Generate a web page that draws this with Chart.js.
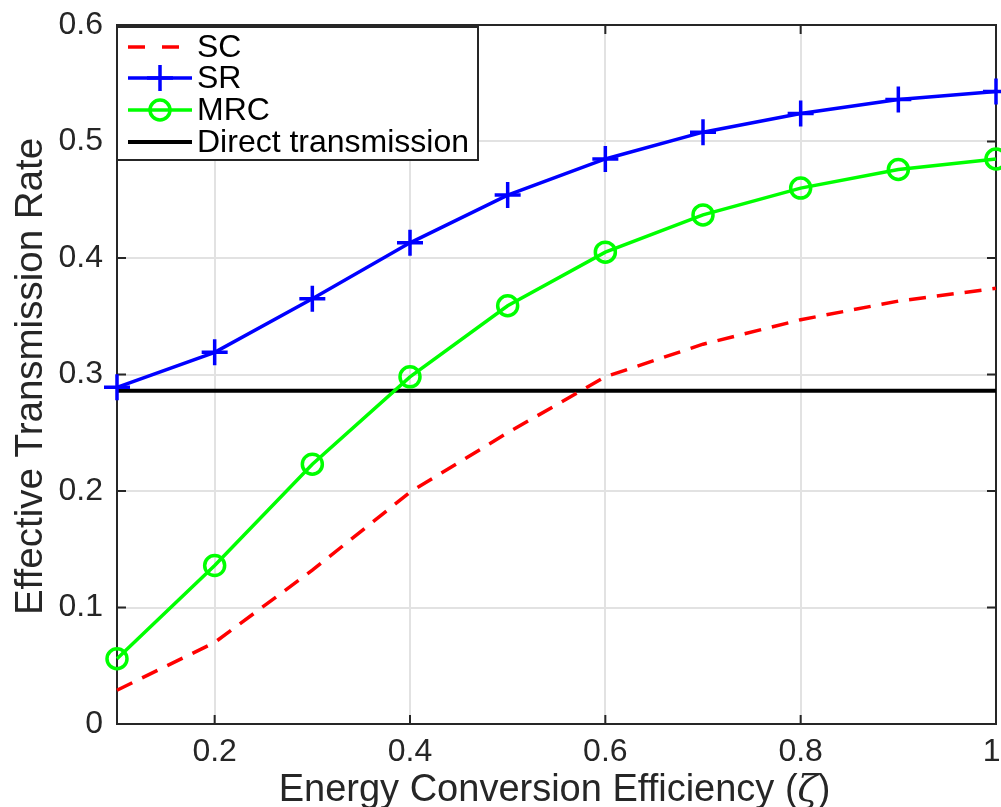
<!DOCTYPE html>
<html>
<head>
<meta charset="utf-8">
<title>Effective Transmission Rate</title>
<script src="https://cdn.jsdelivr.net/npm/chart.js@4.4.1/dist/chart.umd.min.js"></script>
<style>
  html, body { margin: 0; padding: 0; background: #ffffff; }
  #rateChart { display: block; }
</style>
</head>
<body>
<canvas id="rateChart" width="1001" height="807"></canvas>
<script>
// --- data ---
const efficiency = [0.1, 0.2, 0.3, 0.4, 0.5, 0.6, 0.7, 0.8, 0.9, 1.0];
const scRate  = [0.029, 0.070, 0.132, 0.199, 0.250, 0.298, 0.326, 0.347, 0.363, 0.374];
const srRate  = [0.289, 0.319, 0.365, 0.413, 0.454, 0.485, 0.508, 0.524, 0.536, 0.543];
const mrcRate = [0.056, 0.136, 0.223, 0.298, 0.359, 0.405, 0.437, 0.460, 0.476, 0.485];
const directX = [0.1, 1.0];
const directRate = [0.286, 0.286];

const xTicks = [0.2, 0.4, 0.6, 0.8, 1];
const yTicks = [0, 0.1, 0.2, 0.3, 0.4, 0.5, 0.6];

const seriesNames = ['SC', 'SR', 'MRC', 'Direct transmission'];

const FONT = '"Liberation Sans", Arial, Helvetica, sans-serif';
const AXIS_COLOR = '#262626';

function toPoints(xs, ys) {
    return xs.map((x, i) => ({ x: x, y: ys[i] }));
}

// no extra room for the outer tick labels, the box is fixed by layout padding
function fixScale(scale, size) {
    if (scale.isHorizontal()) scale.height = size; else scale.width = size;
    scale.paddingLeft = 0;
    scale.paddingRight = 0;
    scale.paddingTop = 0;
    scale.paddingBottom = 0;
}

// MATLAB style box with inward ticks
const framePlugin = {
    id: 'frame',
    beforeDatasetsDraw(chart) {
        const { ctx, chartArea: a, scales } = chart;
        ctx.save();
        ctx.strokeStyle = AXIS_COLOR;
        ctx.lineWidth = 2;
        ctx.strokeRect(a.left, a.top, a.right - a.left, a.bottom - a.top);
        const len = 9;
        ctx.beginPath();
        xTicks.forEach(v => {
            const px = scales.x.getPixelForValue(v);
            ctx.moveTo(px, a.bottom); ctx.lineTo(px, a.bottom - len);
            ctx.moveTo(px, a.top); ctx.lineTo(px, a.top + len);
        });
        yTicks.forEach(v => {
            const py = scales.y.getPixelForValue(v);
            ctx.moveTo(a.left, py); ctx.lineTo(a.left + len, py);
            ctx.moveTo(a.right, py); ctx.lineTo(a.right - len, py);
        });
        ctx.stroke();
        ctx.restore();
    }
};

// axis titles (x title needs an italic zeta)
const titlePlugin = {
    id: 'axisTitles',
    afterDraw(chart) {
        const { ctx, chartArea: a } = chart;
        ctx.save();
        ctx.fillStyle = AXIS_COLOR;
        ctx.textBaseline = 'alphabetic';

        const main = 'Energy Conversion Efficiency (';
        const zeta = 'ζ';
        const close = ')';
        const upright = '38px ' + FONT;
        const italic = 'italic 37px "DejaVu Serif", serif';
        ctx.font = upright;
        const w1 = ctx.measureText(main).width;
        const w3 = ctx.measureText(close).width;
        ctx.font = italic;
        const w2 = ctx.measureText(zeta).width;
        let x = (a.left + a.right) / 2 - 2 - (w1 + w2 + w3) / 2;
        const y = 801;
        ctx.textAlign = 'left';
        ctx.font = upright;
        ctx.fillText(main, x, y);
        ctx.font = italic;
        ctx.fillText(zeta, x + w1, y);
        ctx.font = upright;
        ctx.fillText(close, x + w1 + w2, y);

        ctx.translate(42, (a.top + a.bottom) / 2 + 2);
        ctx.rotate(-Math.PI / 2);
        ctx.textAlign = 'center';
        ctx.font = '38.5px ' + FONT;
        ctx.fillText('Effective Transmission Rate', 0, 0);
        ctx.restore();
    }
};

// legend box in the upper-left corner of the axes
const legendPlugin = {
    id: 'boxLegend',
    afterDatasetsDraw(chart) {
        const { ctx, chartArea: a } = chart;
        const box = { left: a.left, top: a.top + 2, right: 478, bottom: 160 };
        const rows = [47, 78, 110, 142];
        ctx.save();
        ctx.fillStyle = '#ffffff';
        ctx.fillRect(box.left, box.top, box.right - box.left, box.bottom - box.top);
        ctx.strokeStyle = AXIS_COLOR;
        ctx.lineWidth = 2;
        ctx.strokeRect(box.left, box.top, box.right - box.left, box.bottom - box.top);

        chart.data.datasets.forEach((ds, i) => {
            const y = rows[i];
            ctx.save();
            ctx.strokeStyle = ds.borderColor;
            ctx.lineWidth = ds.borderWidth;
            if (ds.borderDash && ds.borderDash.length) {
                ctx.setLineDash([17, 17]);
                ctx.beginPath(); ctx.moveTo(128, y); ctx.lineTo(180, y); ctx.stroke();
            } else {
                ctx.beginPath(); ctx.moveTo(128, y); ctx.lineTo(192, y); ctx.stroke();
            }
            ctx.setLineDash([]);
            if (ds.pointRadius > 0) {
                ctx.lineWidth = ds.pointBorderWidth;
                ctx.beginPath();
                if (ds.pointStyle === 'cross') {
                    ctx.moveTo(160, y - ds.pointRadius); ctx.lineTo(160, y + ds.pointRadius);
                    ctx.moveTo(160 - ds.pointRadius, y); ctx.lineTo(160 + ds.pointRadius, y);
                } else {
                    ctx.arc(160, y, ds.pointRadius, 0, Math.PI * 2);
                }
                ctx.stroke();
            }
            ctx.restore();
            ctx.fillStyle = '#000000';
            ctx.font = '32px ' + FONT;
            ctx.textAlign = 'left';
            ctx.textBaseline = 'middle';
            ctx.fillText(ds.label, 197, y + 1);
        });
        ctx.restore();
    }
};

const ctx = document.getElementById('rateChart');
new Chart(ctx, {
    type: 'line',
    data: {
        datasets: [{
            label: seriesNames[0],
            data: toPoints(efficiency, scRate),
            borderColor: '#ff0000',
            borderWidth: 3.5,
            borderDash: [17, 11],
            pointRadius: 0,
            tension: 0,
            clip: false
        }, {
            label: seriesNames[1],
            data: toPoints(efficiency, srRate),
            borderColor: '#0000ff',
            borderWidth: 3.5,
            pointStyle: 'cross',
            pointRadius: 13,
            pointBorderWidth: 3.5,
            pointBorderColor: '#0000ff',
            tension: 0,
            clip: false
        }, {
            label: seriesNames[2],
            data: toPoints(efficiency, mrcRate),
            borderColor: '#00ff00',
            borderWidth: 3.5,
            pointStyle: 'circle',
            pointRadius: 10,
            pointBorderWidth: 3.5,
            pointBorderColor: '#00ff00',
            pointBackgroundColor: 'rgba(0,0,0,0)',
            tension: 0,
            clip: false
        }, {
            label: seriesNames[3],
            data: toPoints(directX, directRate),
            borderColor: '#000000',
            borderWidth: 4,
            pointRadius: 0,
            tension: 0
        }]
    },
    options: {
        responsive: false,
        animation: false,
        events: [],
        layout: { autoPadding: false, padding: { left: 0, right: 5, top: 25, bottom: 0 } },
        plugins: {
            legend: { display: false },
            tooltip: { enabled: false }
        },
        scales: {
            x: {
                type: 'linear',
                min: 0.1,
                max: 1,
                afterBuildTicks: (scale) => { scale.ticks = xTicks.map(v => ({ value: v })); },
                afterFit: (scale) => fixScale(scale, 83),
                border: { display: false },
                grid: { color: '#e2e2e2', lineWidth: 2, drawTicks: false },
                ticks: {
                    color: AXIS_COLOR,
                    font: { family: FONT, size: 32 },
                    padding: 9,
                    maxRotation: 0,
                    // the last label sits at the figure edge, nudge it inside
                    callback: (v) => v === 1 ? '1 ' : String(Number(v.toFixed(1)))
                }
            },
            y: {
                type: 'linear',
                min: 0,
                max: 0.6,
                afterBuildTicks: (scale) => { scale.ticks = yTicks.map(v => ({ value: v })); },
                afterFit: (scale) => fixScale(scale, 117),
                border: { display: false },
                grid: { color: '#e2e2e2', lineWidth: 2, drawTicks: false },
                ticks: {
                    color: AXIS_COLOR,
                    font: { family: FONT, size: 32 },
                    padding: 14,
                    callback: (v) => String(Number(v.toFixed(1)))
                }
            }
        }
    },
    plugins: [framePlugin, legendPlugin, titlePlugin]
});
</script>
</body>
</html>
